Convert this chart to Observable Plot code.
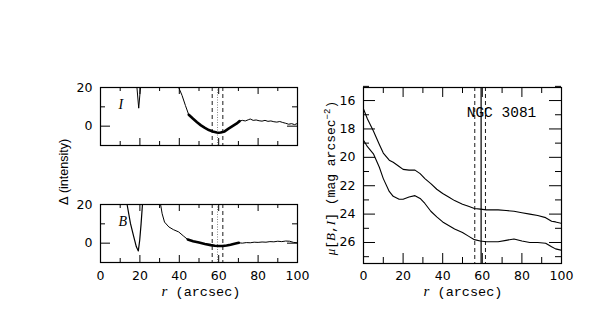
<!DOCTYPE html>
<html><head><meta charset="utf-8">
<script src="https://cdn.jsdelivr.net/npm/d3@7"></script>
<script src="https://cdn.jsdelivr.net/npm/@observablehq/plot@0.6"></script>
<style>
html,body{margin:0;padding:0;background:#fff;}
#chart{position:relative;width:598px;height:318px;overflow:hidden;background:#fff;}
#chart svg{position:absolute;left:0;top:0;background:transparent;overflow:visible;}
</style></head><body><div id="chart"></div>
<script>
// ---------- data ----------
// Left top panel (I band residual)
const iSpikeR = [18.5, 19.4, 20.3];
const iSpikeD = [20, 9.3, 20];
const iThin1R = [39.7, 41.4, 43.1, 44.8];
const iThin1D = [20, 15.9, 10.7, 5.9];
const iThickR = [44.8, 47, 49, 51, 53, 55, 57, 59, 60, 61, 63, 65, 67, 69, 70.6];
const iThickD = [5.9, 3.8, 2.0, 0.4, -0.9, -2.0, -2.8, -3.3, -3.4, -3.3, -2.7, -1.3, 0.0, 1.3, 2.6];
const iThin2R = [70.6, 72, 73.5, 75, 76, 77.5, 79, 80.5, 82, 83.5, 85, 86.5, 88, 89.5, 91, 92.5, 94, 95.5, 97, 98.5, 100];
const iThin2D = [2.6, 3.0, 2.7, 3.3, 3.7, 3.0, 3.2, 2.8, 2.6, 3.0, 2.5, 2.7, 2.3, 2.1, 2.4, 1.9, 1.5, 1.0, 1.3, 0.8, 1.4];
// Left bottom panel (B band residual)
const bVR = [13.5, 15.2, 16.9, 18.2, 19.2, 19.9, 20.6, 21.3];
const bVD = [20, 10.2, 3.3, -1.9, -4.0, 1.5, 10, 20];
const bThin1R = [30.5, 31.3, 32.5, 34.7, 37, 39.7, 42, 44.3];
const bThin1D = [20, 15.2, 10.9, 8.4, 7.0, 5.8, 3.8, 1.9];
const bThickR = [44.3, 47, 50, 53, 56, 58, 60, 62, 64, 66, 68, 70.2];
const bThickD = [1.9, 1.0, 0.3, -0.4, -1.0, -1.3, -1.5, -1.5, -1.2, -0.8, -0.3, 0.2];
const bThin2R = [70.2, 72, 74, 76, 78, 80, 82, 84, 86, 88, 90, 92, 94, 96, 98, 100];
const bThin2D = [0.2, 0.0, 0.3, 0.2, 0.5, 0.4, 0.6, 0.5, 0.8, 0.7, 1.0, 0.8, 1.1, 1.0, 0.4, 0.2];
// Right panel surface brightness profiles
const muR = [0, 2, 5, 8, 10, 13, 15, 18, 20, 23, 26, 28.6, 31, 34, 37, 40, 43, 46, 50, 53, 56, 59, 62, 65, 68, 72, 76, 80, 84, 88, 92, 95, 97, 100];
const muI = [16.6, 17.3, 18.15, 19.1, 19.7, 20.2, 20.35, 20.65, 20.85, 20.9, 20.9, 21.15, 21.5, 21.85, 22.25, 22.55, 22.8, 23.05, 23.3, 23.45, 23.6, 23.65, 23.7, 23.7, 23.7, 23.75, 23.8, 23.9, 24.0, 24.1, 24.25, 24.5, 24.55, 24.65];
const muB = [18.8, 19.25, 19.75, 20.7, 21.5, 22.4, 22.75, 22.95, 22.95, 22.8, 22.7, 22.9, 23.25, 23.8, 24.2, 24.55, 24.8, 25.05, 25.3, 25.55, 25.8, 25.9, 25.95, 25.95, 25.95, 25.85, 25.75, 25.9, 26.0, 26.0, 26.05, 26.3, 26.45, 26.55];
// Reference radii (vertical lines)
const dashedLeft = [56.7, 62.1];
const centerLeft = [59.4];
const dashedRight = [56.2, 61.6];
const centerRight = [59.4];
// ticks
const xMajor = [0, 20, 40, 60, 80, 100];
const xMinor = [10, 30, 50, 70, 90];
const dLabels = [0, 20];
const dMinor = [-10, 10];
const muLabels = [16, 18, 20, 22, 24, 26];
const muMinor = [15, 17, 19, 21, 23, 25, 27];
const galaxy = [{text: "NGC 3081", r: 69.7, mu: 16.82}];

const W = 598, H = 318;
const pts = (rs, vs) => rs.map((r, i) => ({r, v: vs[i]}));

function inwardTicks(f, xDom, yTopV, yBotV, xMaj, xMin, yMaj, yMin, L) {
  const ux = (xDom[1] - xDom[0]) / (f.r - f.l);
  const uy = (yBotV - yTopV) / (f.b - f.t);
  const marks = [];
  const xs = [...xMaj.map(x => ({x, len: L.xM})), ...xMin.map(x => ({x, len: L.xm}))];
  marks.push(Plot.ruleX(xs, {x: "x", y1: yBotV, y2: d => yBotV - d.len * uy, stroke: "black", strokeWidth: 1}));
  marks.push(Plot.ruleX(xs, {x: "x", y1: yTopV, y2: d => yTopV + d.len * uy, stroke: "black", strokeWidth: 1}));
  const ys = [...yMaj.map(y => ({y, len: L.yM})), ...yMin.map(y => ({y, len: L.ym}))];
  marks.push(Plot.ruleY(ys, {y: "y", x1: xDom[0], x2: d => xDom[0] + d.len * ux, stroke: "black", strokeWidth: 1}));
  marks.push(Plot.ruleY(ys, {y: "y", x1: xDom[1], x2: d => xDom[1] - d.len * ux, stroke: "black", strokeWidth: 1}));
  return marks;
}

const tickFont = "DejaVu Sans, sans-serif";
const root = document.getElementById("chart");

function leftPanel(f, label, series, showX) {
  const marks = [
    ...inwardTicks(f, [0, 100], 20, -10, xMajor, xMinor, dLabels, dMinor, {xM: 7, xm: 4, yM: 10, ym: 5}),
    Plot.ruleX(centerLeft, {stroke: "#888", strokeWidth: 1, strokeDasharray: "1,1.5"}),
    Plot.ruleX(dashedLeft, {stroke: "black", strokeWidth: 0.9, strokeDasharray: "4,3"}),
    ...series,
    Plot.frame({stroke: "black", strokeWidth: 1.2}),
    Plot.axisY(dLabels, {tickSize: 0, tickPadding: 8, fontSize: 12.5, fontFamily: tickFont, label: null}),
    Plot.text([label], {frameAnchor: "top-left", dx: 18, dy: 12, fontSize: 14, fontStyle: "italic", fontFamily: "Liberation Serif, serif", text: d => d})
  ];
  if (showX) marks.push(Plot.axisX(xMajor, {tickSize: 0, tickPadding: 9, fontSize: 12.5, fontFamily: tickFont, label: null}));
  return Plot.plot({
    width: W, height: H,
    marginLeft: f.l, marginRight: W - f.r, marginTop: f.t, marginBottom: H - f.b,
    x: {domain: [0, 100], axis: showX ? undefined : null},
    y: {domain: [-10, 20]},
    style: {background: "transparent", overflow: "visible"},
    marks
  });
}

const fTL = {l: 100, r: 297, t: 87, b: 145};
const fBL = {l: 100, r: 297, t: 204, b: 262};
const fR = {l: 363, r: 561, t: 87, b: 263};

const lineOpts = (w) => ({x: "r", y: "v", stroke: "black", strokeWidth: w, clip: true});

const pTL = leftPanel(fTL, "I", [
  Plot.line(pts(iSpikeR, iSpikeD), lineOpts(1)),
  Plot.line(pts(iThin1R, iThin1D), lineOpts(1)),
  Plot.line(pts(iThickR, iThickD), lineOpts(2.6)),
  Plot.line(pts(iThin2R, iThin2D), lineOpts(1))
], false);

const pBL = leftPanel(fBL, "B", [
  Plot.line(pts(bVR, bVD), lineOpts(1.2)),
  Plot.line(pts(bThin1R, bThin1D), lineOpts(1)),
  Plot.line(pts(bThickR, bThickD), lineOpts(2.6)),
  Plot.line(pts(bThin2R, bThin2D), lineOpts(1))
], true);

const yTopR = 15.08, yBotR = 27.48;
const pR = Plot.plot({
  width: W, height: H,
  marginLeft: fR.l, marginRight: W - fR.r, marginTop: fR.t, marginBottom: H - fR.b,
  x: {domain: [0, 100]},
  y: {domain: [yTopR, yBotR], reverse: true},
  style: {background: "transparent", overflow: "visible"},
  marks: [
    ...inwardTicks(fR, [0, 100], yTopR, yBotR, xMajor, xMinor, muLabels, muMinor, {xM: 10, xm: 6, yM: 12, ym: 6}),
    Plot.ruleX(dashedRight, {stroke: "black", strokeWidth: 0.9, strokeDasharray: "4,3"}),
    Plot.ruleX(centerRight, {stroke: "black", strokeWidth: 1.2}),
    Plot.line(pts(muR, muI), lineOpts(1.1)),
    Plot.line(pts(muR, muB), lineOpts(1.1)),
    Plot.frame({stroke: "black", strokeWidth: 1.2}),
    Plot.axisY(muLabels, {tickSize: 0, tickPadding: 8, fontSize: 12.5, fontFamily: tickFont, label: null}),
    Plot.axisX(xMajor, {tickSize: 0, tickPadding: 8, fontSize: 12.5, fontFamily: tickFont, label: null}),
    Plot.text(galaxy, {x: "r", y: "mu", text: "text", fontSize: 14.5, fontFamily: "Liberation Mono, monospace", fill: "black", textAnchor: "middle"})
  ]
});

root.append(pTL, pBL, pR);

// Axis titles with mixed styling (added as real SVG text)
const svg = d3.select(pR);
function rLabel(cx, baseline) {
  const t = svg.append("text").attr("x", cx).attr("y", baseline).attr("text-anchor", "middle")
    .attr("font-size", 13.5).attr("fill", "black");
  t.append("tspan").attr("font-family", "Liberation Serif, serif").attr("font-style", "italic").attr("font-size", 15).text("r");
  t.append("tspan").attr("font-family", "Liberation Mono, monospace").text(" (arcsec)");
}
rLabel(201, 296);
rLabel(463, 296);

const dl = svg.append("text").attr("transform", "translate(68,172) rotate(-90)").attr("text-anchor", "middle")
  .attr("font-family", "Liberation Sans, Arial, sans-serif").attr("font-size", 12.5).attr("fill", "black");
dl.append("tspan").attr("font-family", "DejaVu Sans, sans-serif").text("Δ");
dl.append("tspan").text(" (intensity)");

const ml = svg.append("text").attr("transform", "translate(335,178) rotate(-90)").attr("text-anchor", "middle")
  .attr("font-size", 13).attr("fill", "black").attr("font-family", "Liberation Mono, monospace");
ml.append("tspan").attr("font-family", "Liberation Serif, serif").attr("font-style", "italic").text("μ");
ml.append("tspan").text("[");
ml.append("tspan").attr("font-family", "Liberation Serif, serif").attr("font-style", "italic").text("B");
ml.append("tspan").text(",");
ml.append("tspan").attr("font-family", "Liberation Serif, serif").attr("font-style", "italic").text("I");
ml.append("tspan").text("] (mag arcsec");
ml.append("tspan").attr("font-size", 9).attr("dy", -5).text("−2");
ml.append("tspan").attr("dy", 5).text(")");
</script></body></html>
